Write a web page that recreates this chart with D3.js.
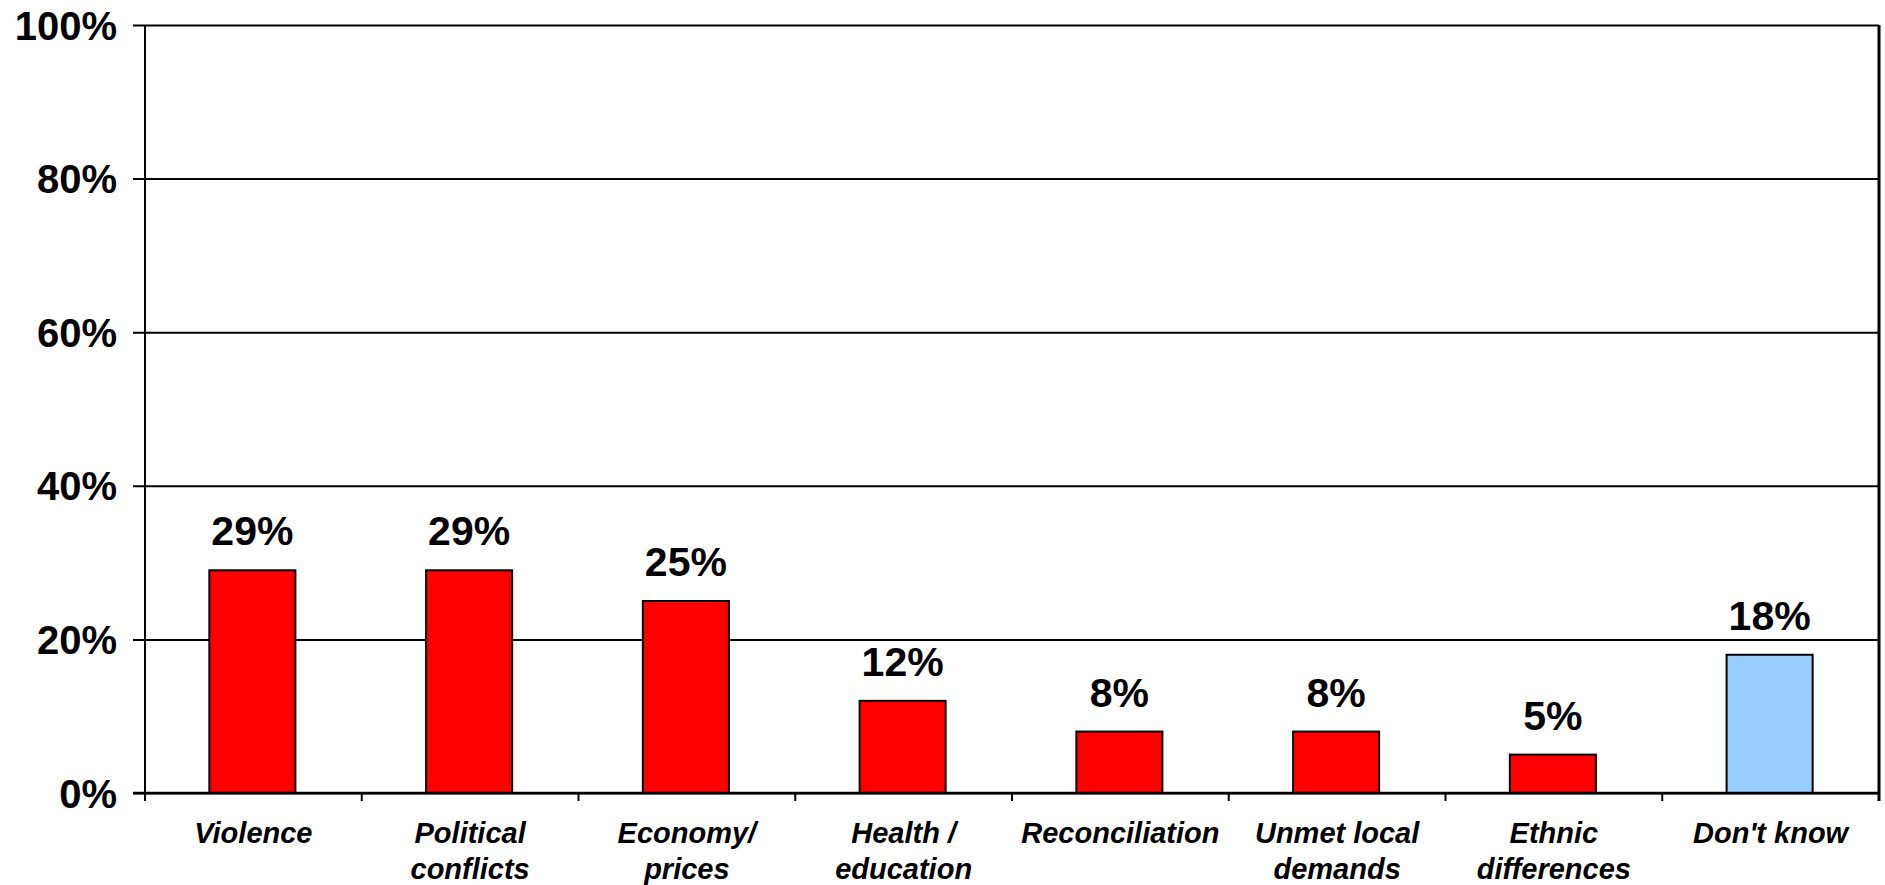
<!DOCTYPE html>
<html>
<head>
<meta charset="utf-8">
<script src="https://cdn.jsdelivr.net/npm/d3@7"></script>
<style>
  body { margin: 0; background: #fff; }
  text { font-family: Arial, "Liberation Sans", sans-serif; fill: #000; }
</style>
</head>
<body>
<script>
// chart data
var categories = ["Violence", "Political\nconflicts", "Economy/\nprices", "Health /\neducation",
                  "Reconciliation", "Unmet local\ndemands", "Ethnic\ndifferences", "Don't know"];
var values = [29, 29, 25, 12, 8, 8, 5, 18];
var barColors = ["#ff0000", "#ff0000", "#ff0000", "#ff0000", "#ff0000", "#ff0000", "#ff0000", "#99ccff"];
var yTicks = [0, 20, 40, 60, 80, 100];

// plot box
var margin = {top: 25, right: 6, bottom: 92, left: 145},
    W = 1885, H = 885,
    width = W - margin.left - margin.right,
    height = H - margin.top - margin.bottom;

var svg = d3.select("body").append("svg")
    .attr("width", W)
    .attr("height", H);

var g = svg.append("g")
    .attr("transform", "translate(" + margin.left + "," + margin.top + ")");

var x = d3.scaleBand()
    .domain(d3.range(categories.length))
    .range([0, width])
    .padding(0);

var y = d3.scaleLinear()
    .domain([0, 100])
    .range([height, 0]);

// horizontal gridlines + y labels via axis
var yAxis = g.append("g")
    .call(d3.axisLeft(y)
      .tickValues(yTicks)
      .tickSize(-width - 12)
      .tickPadding(16)
      .tickFormat(function(d) { return d + "%"; }));
yAxis.select(".domain").remove();
yAxis.selectAll(".tick line")
    .attr("x1", -12)
    .attr("x2", width)
    .attr("stroke", "#000")
    .attr("stroke-width", 2);
yAxis.selectAll(".tick text")
    .attr("x", -28)
    .style("font-size", "40px")
    .style("font-weight", "bold")
    .attr("dy", "0.35em");

// left axis line
g.append("line")
    .attr("x1", 0).attr("x2", 0)
    .attr("y1", 0).attr("y2", height)
    .attr("stroke", "#000").attr("stroke-width", 2);

// right border
g.append("line")
    .attr("x1", width).attr("x2", width)
    .attr("y1", 0).attr("y2", height + 8)
    .attr("stroke", "#000").attr("stroke-width", 3);

// category boundary ticks
var bounds = d3.range(categories.length).map(function(i) { return x(i); });
g.selectAll(".ctick")
    .data(bounds)
  .enter().append("line")
    .attr("class", "ctick")
    .attr("x1", function(d) { return d; })
    .attr("x2", function(d) { return d; })
    .attr("y1", height)
    .attr("y2", height + 8)
    .attr("stroke", "#000").attr("stroke-width", 2);

// bars
var barW = x.bandwidth() * 0.397;
g.selectAll(".bar")
    .data(values)
  .enter().append("rect")
    .attr("class", "bar")
    .attr("x", function(d, i) { return x(i) + x.bandwidth() / 2 - barW / 2 - 1; })
    .attr("y", function(d) { return y(d); })
    .attr("width", barW)
    .attr("height", function(d) { return height - y(d); })
    .attr("fill", function(d, i) { return barColors[i]; })
    .attr("stroke", "#000")
    .attr("stroke-width", 2);

// value labels
g.selectAll(".val")
    .data(values)
  .enter().append("text")
    .attr("class", "val")
    .attr("x", function(d, i) { return x(i) + x.bandwidth() / 2 - 1; })
    .attr("y", function(d) { return y(d) - 25; })
    .attr("text-anchor", "middle")
    .style("font-size", "41px")
    .style("font-weight", "bold")
    .text(function(d) { return d + "%"; });

// x axis baseline
g.append("line")
    .attr("x1", -12).attr("x2", width)
    .attr("y1", height).attr("y2", height)
    .attr("stroke", "#000").attr("stroke-width", 2.5);

// category labels
var cat = g.selectAll(".cat")
    .data(categories)
  .enter().append("text")
    .attr("class", "cat")
    .attr("text-anchor", "middle")
    .attr("transform", function(d, i) {
      return "translate(" + (x(i) + x.bandwidth() / 2) + "," + (height + 50) + ")"; })
    .style("font-size", "29px")
    .style("font-weight", "bold")
    .style("font-style", "italic");
cat.selectAll("tspan")
    .data(function(d) { return d.split("\n"); })
  .enter().append("tspan")
    .attr("x", 0)
    .attr("y", function(d, i) { return i * 36; })
    .text(function(d) { return d; });
</script>
</body>
</html>
